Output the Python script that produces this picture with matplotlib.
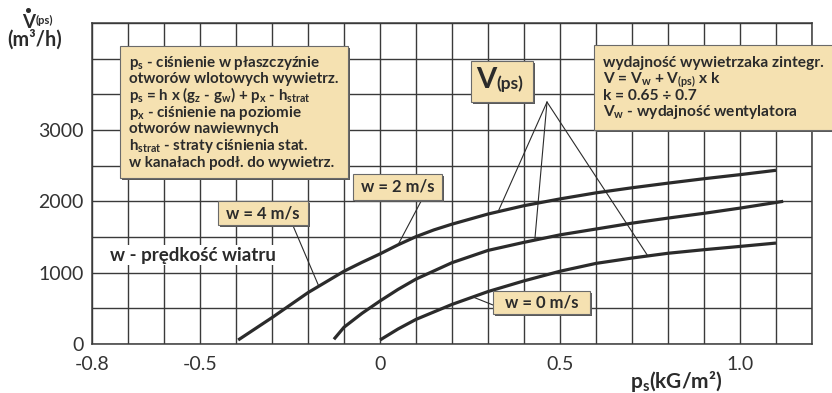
import numpy as np
import matplotlib
matplotlib.use("Agg")
import matplotlib.pyplot as plt
from matplotlib.patches import Rectangle, ConnectionPatch
from matplotlib.lines import Line2D

plt.rcParams['font.family'] = ['Lato', 'DejaVu Sans']
plt.rcParams['mathtext.fontset'] = 'custom'
plt.rcParams['mathtext.default'] = 'regular'

# Characteristic curves: static pressure p_s (kG/m2) vs. airflow V(ps) (m3/h)
p_w4 = [-0.394, -0.30, -0.20, -0.10, -0.05, 0.0, 0.05, 0.10, 0.15, 0.20, 0.30, 0.40, 0.50, 0.60, 0.70, 0.80, 0.90, 1.00, 1.10]
v_w4 = [56, 370, 720, 1020, 1145, 1263, 1390, 1505, 1600, 1680, 1822, 1939, 2034, 2119, 2190, 2255, 2317, 2374, 2435]

p_w2 = [-0.128, -0.10, -0.05, 0.0, 0.05, 0.10, 0.20, 0.30, 0.40, 0.50, 0.60, 0.70, 0.80, 0.90, 1.00, 1.12]
v_w2 = [66, 235, 430, 603, 765, 910, 1140, 1312, 1425, 1530, 1612, 1694, 1765, 1832, 1905, 2000]

p_w0 = [0.0, 0.05, 0.10, 0.20, 0.30, 0.40, 0.50, 0.60, 0.70, 0.80, 0.90, 1.00, 1.10]
v_w0 = [56, 210, 345, 555, 735, 885, 1020, 1130, 1205, 1272, 1322, 1368, 1415]

x_ticks = [-0.8, -0.5, 0.0, 0.5, 1.0]
x_tick_labels = ["-0.8", "-0.5", "0", "0.5", "1.0"]
y_ticks = [0, 1000, 2000, 3000]
y_tick_labels = ["0", "1000", "2000", "3000"]

W, H = 832, 393
INK = "#2b2b2b"
GRID = "#3a3a3a"
BOX = "#f5e1b1"


def fx(px):
    return px / W


def fy(py):
    return 1 - py / H


fig = plt.figure(figsize=(W / 100, H / 100), dpi=100)
ax = fig.add_axes([fx(92), fy(344), 720 / W, 321 / H])
ax.set_xlim(-0.8, 1.2)
ax.set_ylim(0, 4500)

ax.set_xticks(x_ticks)
ax.set_xticklabels(x_tick_labels)
ax.set_yticks(y_ticks)
ax.set_yticklabels(y_tick_labels)
ax.set_xticks(np.linspace(-0.8, 1.2, 21), minor=True)
ax.set_yticks(np.arange(0, 4501, 500), minor=True)
ax.tick_params(which="both", length=0, labelsize=14, labelcolor="#333333")
ax.tick_params(axis="x", pad=9)
ax.tick_params(axis="y", pad=6)
ax.grid(which="both", color=GRID, linewidth=1.0)
ax.set_axisbelow(True)
for s in ax.spines.values():
    s.set_color(GRID)
    s.set_linewidth(1.1)

for p, v in ((p_w4, v_w4), (p_w2, v_w2), (p_w0, v_w0)):
    ax.plot(p, v, color=INK, linewidth=2.3, solid_capstyle="butt",
            solid_joinstyle="round", zorder=3)


def box(x0, y0, x1, y1, fill=BOX, shadow=True):
    if shadow:
        fig.add_artist(Rectangle((fx(x0 + 2), fy(y1 + 2)), (x1 - x0) / W, (y1 - y0) / H,
                                 transform=fig.transFigure, facecolor="#5a5a5a",
                                 edgecolor="none", zorder=5))
    fig.add_artist(Rectangle((fx(x0), fy(y1)), (x1 - x0) / W, (y1 - y0) / H,
                             transform=fig.transFigure, facecolor=fill,
                             edgecolor="#6a6a6a" if shadow else "none",
                             linewidth=0.8, zorder=6))


def txt(x, y, s, size, **kw):
    kw.setdefault("ha", "left")
    kw.setdefault("va", "baseline")
    fig.text(fx(x), fy(y), s, fontsize=size, fontweight="bold", color=INK, zorder=7, **kw)


def leader(x, y, p_arr, v_arr, p_at):
    v_at = float(np.interp(p_at, p_arr, v_arr))
    con = ConnectionPatch(xyA=(fx(x), fy(y)), coordsA=fig.transFigure,
                          xyB=(p_at, v_at), coordsB=ax.transData,
                          color=INK, linewidth=0.8, zorder=4)
    fig.add_artist(con)


# leader lines
leader(547, 102, p_w4, v_w4, 0.328)
leader(547, 102, p_w2, v_w2, 0.43)
leader(547, 102, p_w0, v_w0, 0.744)
leader(421.7, 200, p_w4, v_w4, 0.05)
leader(292.7, 225, p_w4, v_w4, -0.17)
leader(493, 305, p_w0, v_w0, 0.258)

# definitions of p_s
box(120, 46, 348, 178)
lines_left = [
    "p$_s$ - ciśnienie w płaszczyźnie",
    "otworów wlotowych wywietrz.",
    "p$_s$ = h x (g$_z$ - g$_w$) + p$_x$ - h$_{strat}$",
    "p$_x$ - ciśnienie na poziomie",
    "otworów nawiewnych",
    "h$_{strat}$ - straty ciśnienia stat.",
    "w kanałach podł. do wywietrz.",
]
for i, s in enumerate(lines_left):
    txt(129, 66.7 + i * 16.67, s, 10.9)

# integrated ventilator capacity
box(594, 45, 834, 130)
lines_right = [
    "wydajność wywietrzaka zintegr.",
    "V = V$_w$ + V$_{(ps)}$ x k",
    "k = 0.65 ÷ 0.7",
    "V$_w$ - wydajność wentylatora",
]
for i, s in enumerate(lines_right):
    txt(603, 67.3 + i * 16.2, s, 11.2)

# V(ps) tag
box(471, 61, 533, 102)
txt(476, 88.5, "V", 21)
txt(496.5, 88.5, "(ps)", 12.5)

# wind speed tags
box(353, 174, 442, 200)
txt(397.5, 192, "w = 2 m/s", 12, ha="center")
box(218, 201, 308, 225)
txt(263, 218.5, "w = 4 m/s", 12, ha="center")
box(493, 291, 590, 314)
txt(541.5, 307.5, "w = 0 m/s", 12, ha="center")

# wind speed note
box(102, 245, 295, 265, fill="white", shadow=False)
txt(110, 260.5, "w - prędkość wiatru", 13.5)

# axis titles
txt(22, 27.5, "V", 13.5)
txt(35.5, 24, "(ps)", 8)
fig.add_artist(Line2D([fx(28)], [fy(10)], marker="o", markersize=2.6,
                      color=INK, transform=fig.transFigure))
txt(7, 46, "(m³/h)", 14.2)
txt(630, 387.5, "p$_s$(kG/m²)", 15)

fig.savefig("out.png", dpi=100)
